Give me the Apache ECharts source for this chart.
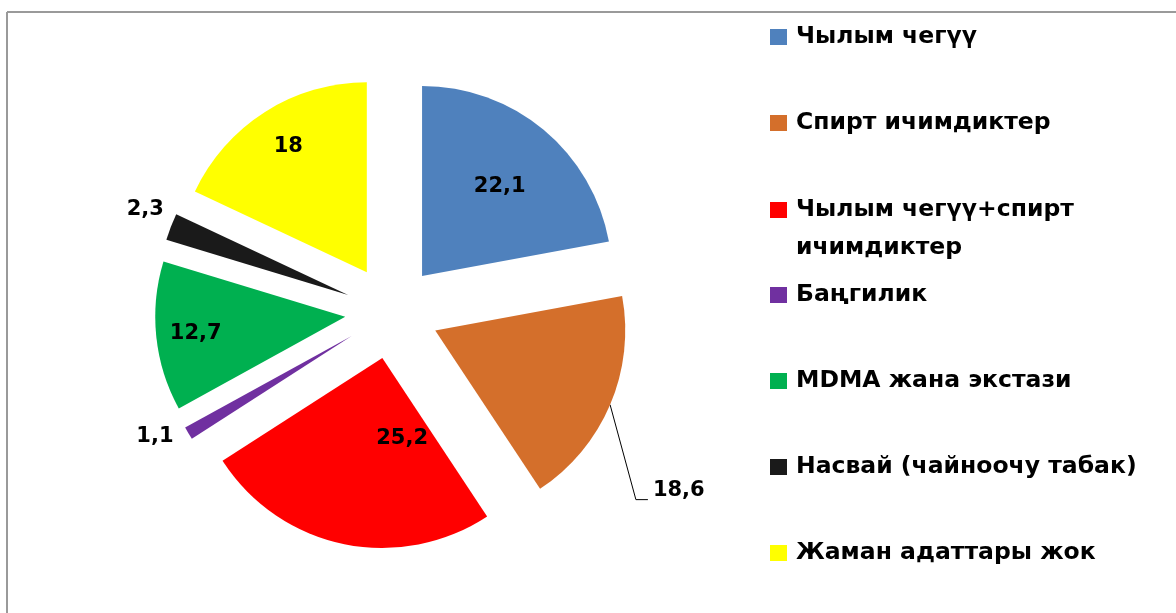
<!DOCTYPE html>
<html>
<head>
<meta charset="utf-8">
<script src="https://cdn.jsdelivr.net/npm/echarts@6/dist/echarts.min.js"></script>
<style>
html, body { margin: 0; padding: 0; background: #fff; }
#chart { width: 1176px; height: 613px; }
</style>
</head>
<body>
<div id="chart"></div>
<script>
// категориялар жана пайыздар
var categories = ['Чылым чегүү', 'Спирт ичимдиктер', 'Чылым чегүү+спирт ичимдиктер', 'Баңгилик', 'MDMA жана экстази', 'Насвай (чайноочу табак)', 'Жаман адаттары жок'];
var values = [22.1, 18.6, 25.2, 1.1, 12.7, 2.3, 18];

// түстөр
var colors = ['#4F81BD', '#D46F2B', '#FF0000', '#7030A0', '#00B050', '#1A1A1A', '#FFFF00'];
// кичине тилкелердин белгиси сыртта
var outsideLabel = [false, true, false, true, false, true, false];
var showLeader = [false, true, false, false, false, false, false];
// белгилерди бир аз жылдыруу (dx, dy)
var labelShift = [[15, -14], [14, 80], [40, -15], [13, -4], [-52, 7], [22, -12], [-26, -43]];

var myChart = echarts.init(document.getElementById('chart'));

var pieData = categories.map(function (name, i) {
  return {
    name: name,
    value: values[i],
    selected: true,
    itemStyle: { color: colors[i] },
    label: { position: outsideLabel[i] ? 'outside' : 'inside' },
    labelLine: { show: showLeader[i] }
  };
});

var legendText = {
  fontFamily: 'DejaVu Sans',
  fontWeight: 'bold',
  fontSize: 23.5,
  color: '#000',
  lineHeight: 30,
  padding: [0, 0, 0, 4]
};

myChart.setOption({
  animation: false,
  color: colors,
  legend: [
    {
      orient: 'vertical', left: 770, top: 22, padding: 0,
      itemWidth: 17, itemHeight: 16, itemGap: 56, icon: 'rect',
      selectedMode: false,
      data: categories.slice(0, 2),
      textStyle: legendText
    },
    {
      // эки саптуу жазуу: квадрат биринчи сапка тегизделет
      orient: 'vertical', left: 770, top: 153, padding: 0,
      itemWidth: 17, itemHeight: 16, icon: 'rect',
      selectedMode: false,
      data: categories.slice(2, 3),
      formatter: function (name) { return '\n' + name.replace('+спирт ', '+спирт\n'); },
      textStyle: Object.assign({}, legendText, { lineHeight: 38 })
    },
    {
      orient: 'vertical', left: 770, top: 280, padding: 0,
      itemWidth: 17, itemHeight: 16, itemGap: 56, icon: 'rect',
      selectedMode: false,
      data: categories.slice(3),
      textStyle: legendText
    }
  ],
  graphic: [
    { type: 'line', shape: { x1: 7, y1: 12, x2: 1176, y2: 12 }, style: { stroke: '#9a9a9a', lineWidth: 2 } },
    { type: 'line', shape: { x1: 7, y1: 12, x2: 7, y2: 613 }, style: { stroke: '#9a9a9a', lineWidth: 2 } }
  ],
  series: [
    {
      type: 'pie',
      center: [392, 312],
      radius: [0, 190],
      startAngle: 90,
      clockwise: true,
      selectedMode: 'multiple',
      selectedOffset: 47,
      avoidLabelOverlap: false,
      emphasis: { scale: false },
      select: { itemStyle: { borderWidth: 0 } },
      label: {
        color: '#000',
        fontFamily: 'DejaVu Sans',
        fontWeight: 'bold',
        fontSize: 21,
        formatter: function (p) { return String(p.value).replace('.', ','); }
      },
      labelLine: {
        length: 15,
        length2: 10,
        lineStyle: { color: '#000', width: 1 }
      },
      labelLayout: function (p) {
        var s = labelShift[p.dataIndex];
        var out = { dx: s[0], dy: s[1] };
        if (showLeader[p.dataIndex] && p.labelLinePoints) {
          // чыгыш сызыгы: кесимден белгинин астына чейин
          var x = p.labelRect.x + s[0];
          var yb = p.labelRect.y + s[1] + p.labelRect.height / 2 + 9;
          out.labelLinePoints = [p.labelLinePoints[0], [x - 17, yb], [x - 5, yb]];
        }
        return out;
      },
      data: pieData
    }
  ]
});
</script>
</body>
</html>
